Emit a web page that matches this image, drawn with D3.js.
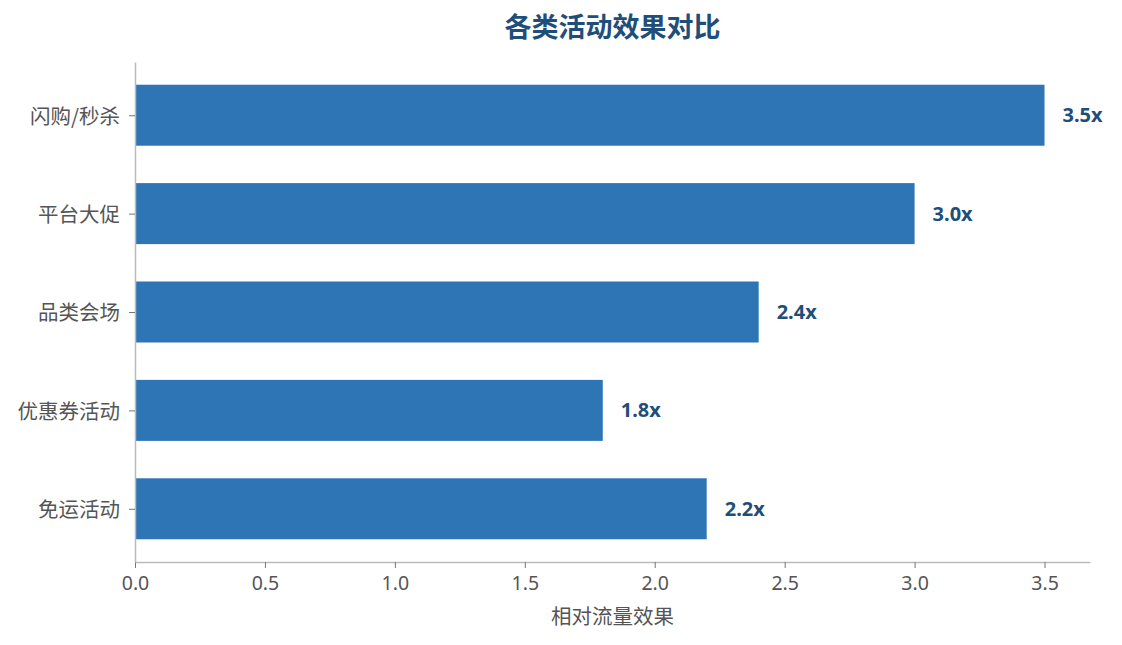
<!DOCTYPE html>
<html>
<head>
<meta charset="utf-8">
<script src="https://cdn.jsdelivr.net/npm/d3@7"></script>
<style>
  body { margin: 0; background: #fff; }
  text { font-family: "Noto Sans CJK SC", "Noto Sans", sans-serif; }
</style>
</head>
<body>
<div id="chart"></div>
<script>
// data, top to bottom
var categories = ["闪购/秒杀", "平台大促", "品类会场", "优惠券活动", "免运活动"]
var effects = [3.5, 3.0, 2.4, 1.8, 2.2]
var xTicks = [0, 0.5, 1.0, 1.5, 2.0, 2.5, 3.0, 3.5]

var W = 1122, H = 645
var plotLeft = 135, plotRight = 1090, plotTop = 62, plotBottom = 562
var barH = 0.62

var svg = d3.select("#chart")
    .append("svg")
    .attr("width", W)
    .attr("height", H)

var x = d3.scaleLinear().domain([0, 3.675]).range([plotLeft, plotRight])
// index 0 at top
var y = d3.scaleLinear().domain([-0.541, 4.541]).range([plotTop, plotBottom])

var data = categories.map(function(c, i){ return {"name" : c, "value" : effects[i], "i" : i} })

svg.selectAll(".bar")
    .data(data)
    .enter()
        .append("rect")
        .attr("class", "bar")
        .attr("x", x(0))
        .attr("y", function(d){ return y(d.i - barH / 2) })
        .attr("width", function(d){ return x(d.value) - x(0) })
        .attr("height", function(d){ return y(d.i + barH / 2) - y(d.i - barH / 2) })
        .attr("fill", "#2e75b6")

svg.selectAll(".val")
    .data(data)
    .enter()
        .append("text")
        .attr("class", "val")
        .attr("x", function(d){ return x(d.value) + 18 })
        .attr("y", function(d){ return y(d.i) })
        .attr("dy", "0.35em")
        .attr("font-size", 20)
        .attr("font-weight", "bold")
        .attr("fill", "#1f4e79")
        .style("font-family", "'Noto Sans', sans-serif")
        .text(function(d){ return d.value.toFixed(1) + "x" })

// x axis
var xAxis = svg.append("g")
    .attr("transform", "translate(0," + plotBottom + ")")
    .call(d3.axisBottom(x).tickValues(xTicks).tickFormat(d3.format(".1f")).tickSize(6).tickSizeOuter(0))
xAxis.select(".domain").attr("stroke", "#bbb").attr("stroke-width", 1.5)
xAxis.selectAll(".tick line").attr("stroke", "#777")
xAxis.selectAll(".tick text").attr("fill", "#555").attr("font-size", 19.5).attr("y", 14)
    .style("font-family", "'Noto Sans', sans-serif")

// y axis
var yAxis = svg.append("g")
    .attr("transform", "translate(" + plotLeft + ",0)")
    .call(d3.axisLeft(y).tickValues(d3.range(categories.length)).tickFormat(function(i){ return categories[i] }).tickSize(6).tickSizeOuter(0))
yAxis.select(".domain").attr("stroke", "#bbb").attr("stroke-width", 1.5)
yAxis.selectAll(".tick line").attr("stroke", "#777")
yAxis.selectAll(".tick text").attr("fill", "#555").attr("font-size", 20.5).attr("x", -15).attr("dy", "0.38em")

svg.append("text")
    .attr("x", (plotLeft + plotRight) / 2)
    .attr("y", 37)
    .attr("text-anchor", "middle")
    .attr("font-size", 27)
    .attr("font-weight", "bold")
    .attr("fill", "#1f4e79")
    .text("各类活动效果对比")

svg.append("text")
    .attr("x", (plotLeft + plotRight) / 2)
    .attr("y", 624)
    .attr("text-anchor", "middle")
    .attr("font-size", 20.5)
    .attr("fill", "#555")
    .text("相对流量效果")
</script>
</body>
</html>
